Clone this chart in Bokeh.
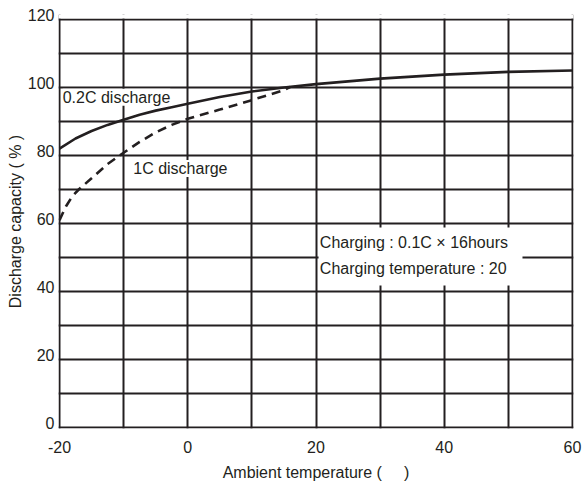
from bokeh.plotting import figure
from bokeh.models import FixedTicker, Label, BoxAnnotation, Range1d, LinearAxis
from bokeh.embed import file_html
from bokeh.resources import INLINE

# Data
temp_02c = [-20, -17.5, -15, -12.5, -10, -7.5, -5, -2.5, 0, 5, 10, 15, 20, 30, 40, 50, 60]
cap_02c = [82, 85, 87.2, 89, 90.5, 92, 93.2, 94.2, 95.2, 97.2, 98.8, 100, 101, 102.6, 103.8, 104.6, 105]
temp_1c = [-20, -19.5, -19, -18, -17, -15, -12.5, -10, -7.5, -5, -2.5, 0, 5, 10, 15, 16]
cap_1c = [61, 63, 65, 68, 70, 73.3, 77.5, 80.8, 84, 86.8, 89, 90.8, 93.5, 96.3, 99.2, 100.2]
x_ticks = [-20, 0, 20, 40, 60]
x_tick_labels = ["-20", "0", "20", "40", "60"]
y_ticks = [0, 20, 40, 60, 80, 100, 120]
x_grid = list(range(-20, 61, 10))
y_grid = list(range(0, 121, 10))
x_min, x_max = -20, 60
y_min, y_max = 0, 120

INK = "#231f20"
FONT = "Liberation Sans"
NB = "\u00a0"
PX_Y = 3.4      # pixels per y unit
PX_X = 6.4125   # pixels per x unit
LIFT = 5 / PX_Y  # y tick labels sit ~5px above their gridlines
PAD_Y = 1 / PX_Y
PAD_X = 1 / PX_X

p = figure(width=582, height=489, output_backend="svg", toolbar_location=None,
           x_range=Range1d(x_min - PAD_X, x_max + PAD_X),
           y_range=Range1d(y_min - PAD_Y, y_max + LIFT),
           min_border_left=58, min_border_right=9, min_border_top=14, min_border_bottom=61)

p.outline_line_color = None
p.background_fill_color = "white"
p.border_fill_color = "white"

p.xgrid.ticker = FixedTicker(ticks=x_grid)
p.ygrid.ticker = FixedTicker(ticks=y_grid)
for g in (p.xgrid, p.ygrid):
    g.grid_line_color = INK
    g.grid_line_width = 2
    g.grid_line_alpha = 1

# hide the grid stubs above the top (120) line
p.add_layout(BoxAnnotation(bottom=y_max + PAD_Y, fill_color="white", fill_alpha=1,
                           line_color=None, level="underlay"))

p.yaxis.visible = False
p.extra_y_ranges = {"lab": Range1d(y_min - PAD_Y - LIFT, y_max)}
yax = LinearAxis(y_range_name="lab", ticker=FixedTicker(ticks=y_ticks))
p.add_layout(yax, "left")

p.xaxis.ticker = FixedTicker(ticks=x_ticks)
for ax in (p.xaxis, yax):
    ax.axis_line_color = None
    ax.major_tick_line_color = None
    ax.minor_tick_line_color = None
    ax.major_tick_out = 0
    ax.major_tick_in = 0
    ax.minor_tick_out = 0
    ax.minor_tick_in = 0
    ax.major_label_text_font = FONT
    ax.major_label_text_font_size = "16px"
    ax.major_label_text_color = INK
    ax.axis_label_text_font = FONT
    ax.axis_label_text_font_size = "16px"
    ax.axis_label_text_font_style = "normal"
    ax.axis_label_text_color = INK

p.xaxis.major_label_overrides = {t: s for t, s in zip(x_ticks, x_tick_labels)}
p.xaxis.axis_label = "Ambient temperature (" + NB * 5 + ")"
yax.axis_label = "Discharge capacity ( % )"
p.xaxis.major_label_standoff = 12
p.xaxis.axis_label_standoff = 8
yax.major_label_standoff = 4
yax.axis_label_standoff = 1

p.line(temp_02c, cap_02c, line_color=INK, line_width=2.6)
p.line(temp_1c, cap_1c, line_color=INK, line_width=2.6, line_dash="9 6")

label_kw = dict(text_font=FONT, text_font_size="16px", text_color=INK,
                text_baseline="middle", background_fill_color="white")
p.add_layout(Label(x=-19.5, y=97.1, text="0.2C discharge", **label_kw))
p.add_layout(Label(x=-8.5, y=76.2, text="1C discharge", **label_kw))

p.add_layout(BoxAnnotation(left=20.4, right=52.2, bottom=41.8, top=58.8,
                           fill_color="white", fill_alpha=1, line_color=None))
p.add_layout(Label(x=20.6, y=54.4, text="Charging : 0.1C \u00d7 16hours", **label_kw))
p.add_layout(Label(x=20.6, y=46.8, text="Charging temperature : 20", **label_kw))

open("out.html", "w").write(file_html(p, INLINE))
